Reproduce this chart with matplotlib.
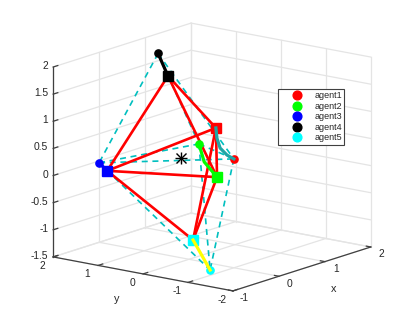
import matplotlib
matplotlib.use('Agg')
import matplotlib.pyplot as plt
from matplotlib.lines import Line2D
from mpl_toolkits.mplot3d import proj3d

plt.rcParams['font.family'] = ['Liberation Sans', 'DejaVu Sans']

names = ['agent1', 'agent2', 'agent3', 'agent4', 'agent5']
colors = ['#ff0000', '#00ff00', '#0000ff', '#000000', '#00ffff']
trail_colors = ['#1fa5a5', '#00ff00', '#0000ff', '#000000', '#ffff00']

# start points (circles) x, y, z
start_x = [1.2, 0.0, -0.5, 0.5, -0.5]
start_y = [0.23, -0.22, 1.49, 1.2, -0.98]
start_z = [-0.01, 0.66, 0.18, 1.97, -1.41]

# end points (squares) x, y, z
end_x = [0.8, -0.3, -0.5, 0.5, 0.0]
end_y = [0.22, -0.93, 1.31, 0.98, -0.09]
end_z = [0.67, 0.24, 0.06, 1.59, -1.13]

# middle of the trails
mid_x = [[1.1, 0.95, 0.85], [-0.1], [], [], []]
mid_y = [[0.28, 0.28, 0.25], [-0.44], [], [], []]
mid_z = [[0.08, 0.25, 0.47], [0.39], [], [], []]

center = [0.0, 0.18, 0.34]

links = [(3, 2), (3, 0), (3, 1), (2, 0), (2, 1), (2, 4), (0, 1), (0, 4), (1, 4)]

xticks = [-1, 0, 1, 2]
yticks = [-2, -1, 0, 1, 2]
zticks = [-1.5, -1, -0.5, 0, 0.5, 1, 1.5, 2]
xlim = (-1, 2)
ylim = (-2, 2)
zlim = (-1.5, 2)

W, H = 409, 327
fig = plt.figure(figsize=(W / 100, H / 100), dpi=100)
S = 400
# box centre sits at 212, 157 px; view centre is 0.5135 of the axes side
ax = fig.add_axes([(212 - 0.5135 * S) / W, (H - 157 - 0.5135 * S) / H, S / W, S / H],
                  projection='3d', proj_type='ortho', computed_zorder=False)
ax.view_init(elev=14.2, azim=-142.4)
ax.set_xlim(*xlim, view_margin=0)
ax.set_ylim(*ylim, view_margin=0)
ax.set_zlim(*zlim, view_margin=0)
ax.set_box_aspect((226, 227, 196), zoom=0.911)
ax.set_axis_off()


def label(x, y, z, s, ha='center', size=7.4):
    px, py, _ = proj3d.proj_transform(x, y, z, ax.get_proj())
    ax.text2D(px, py, s, transform=ax.transData, ha=ha, va='center',
              fontsize=size, color='#262626')


# grid on the back walls and the floor
grid = '#e4e4e4'
for x in xticks:
    ax.plot([x, x], [ylim[0], ylim[1]], [zlim[0], zlim[0]], color=grid, lw=0.9, zorder=1)
    ax.plot([x, x], [ylim[1], ylim[1]], [zlim[0], zlim[1]], color=grid, lw=0.9, zorder=1)
for y in yticks:
    ax.plot([xlim[0], xlim[1]], [y, y], [zlim[0], zlim[0]], color=grid, lw=0.9, zorder=1)
    ax.plot([xlim[1], xlim[1]], [y, y], [zlim[0], zlim[1]], color=grid, lw=0.9, zorder=1)
for z in zticks:
    ax.plot([xlim[0], xlim[1]], [ylim[1], ylim[1]], [z, z], color=grid, lw=0.9, zorder=1)
    ax.plot([xlim[1], xlim[1]], [ylim[0], ylim[1]], [z, z], color=grid, lw=0.9, zorder=1)

# axis lines and ticks
dark = '#404040'
ax.plot([-1, -1], [2, 2], zlim, color=dark, lw=0.9, zorder=2)
ax.plot([-1, -1], ylim, [-1.5, -1.5], color=dark, lw=0.9, zorder=2)
ax.plot(xlim, [-2, -2], [-1.5, -1.5], color=dark, lw=0.9, zorder=2)
for z in zticks:
    ax.plot([-1, -0.9], [2, 2], [z, z], color=dark, lw=0.9, zorder=2)
    label(-1, 2.11, z, '%g' % z, ha='right')
for y in yticks:
    ax.plot([-1, -0.9], [y, y], [-1.5, -1.5], color=dark, lw=0.9, zorder=2)
    label(-1, y + 0.24, -1.7, '%g' % y)
for x in xticks:
    ax.plot([x, x], [-2, -1.9], [-1.5, -1.5], color=dark, lw=0.9, zorder=2)
    label(x, -2.24, -1.6, '%g' % x)
label(-1, 0.58, -2.05, 'y', size=7.8)
label(1.2, -2, -2.05, 'x', size=7.8)

# dashed shape through the start points
for a, b in links:
    ax.plot([start_x[a], start_x[b]], [start_y[a], start_y[b]], [start_z[a], start_z[b]],
            color='#00bfbf', ls=(0, (3.6, 2.8)), lw=1.2, zorder=3)

# solid shape through the end points
for a, b in links:
    ax.plot([end_x[a], end_x[b]], [end_y[a], end_y[b]], [end_z[a], end_z[b]],
            color='#ff0000', lw=1.9, zorder=4)

# starts, ends, then the trails on top of them
for i in range(5):
    ax.plot([start_x[i]], [start_y[i]], [start_z[i]], 'o', color=colors[i], ms=5.2, zorder=5)
    ax.plot([end_x[i]], [end_y[i]], [end_z[i]], 's', color=colors[i], ms=6.5, zorder=5)
    tx = [start_x[i]] + mid_x[i] + [end_x[i]]
    ty = [start_y[i]] + mid_y[i] + [end_y[i]]
    tz = [start_z[i]] + mid_z[i] + [end_z[i]]
    ax.plot(tx, ty, tz, color=trail_colors[i], lw=2.3, zorder=6)

ax.plot([center[0]], [center[1]], [center[2]], 'x', color='k', ms=6.5, mew=1, zorder=7)
ax.plot([center[0]], [center[1]], [center[2]], '+', color='k', ms=9, mew=1, zorder=7)

handles = [Line2D([], [], ls='', marker='o', color=c, ms=6.3) for c in colors]
leg = fig.legend(handles, names, loc='upper left',
                 bbox_to_anchor=(278 / W, 1 - 89 / H), bbox_transform=fig.transFigure,
                 fontsize=6.5, fancybox=False, framealpha=1, edgecolor='#404040',
                 borderaxespad=0, borderpad=0.25, labelspacing=0.17,
                 handletextpad=0.15, handlelength=3.65, labelcolor='#262626')
leg.get_frame().set_linewidth(0.8)

fig.savefig('out.png', dpi=100)
